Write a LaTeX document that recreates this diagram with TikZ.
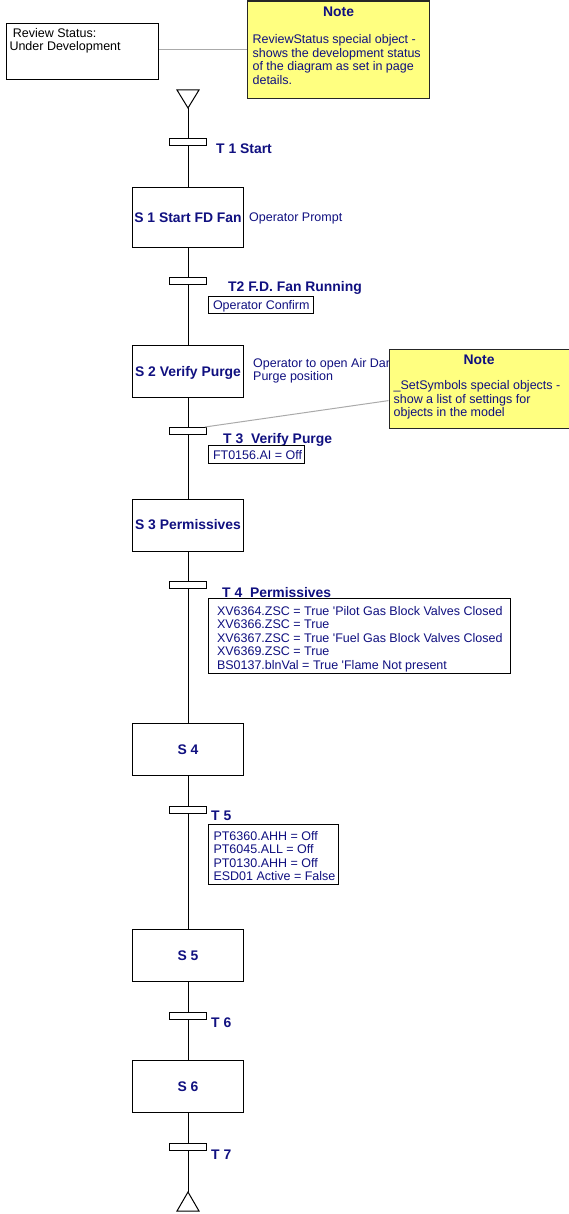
\documentclass[tikz,border=0pt]{standalone}
\usepackage{fontspec}
\setmainfont{Liberation Sans}
\usetikzlibrary{calc}

\definecolor{ink}{RGB}{16,16,128}
\definecolor{notefill}{RGB}{255,255,128}
\definecolor{leader}{RGB}{170,170,170}

\newcommand\rfont{\fontsize{12.5pt}{13.4pt}\selectfont}
\newcommand\bfont{\fontsize{13.9pt}{15pt}\selectfont\bfseries}
% one left-aligned row of a framed text box: width, left pad, text
\newcommand\cellrow[3]{\hbox to #1{\hskip#2\relax #3\hfil}}
\newcommand\apos{\textquotesingle}

\tikzset{
  stepbox/.style={draw, line width=1pt, fill=white, minimum width=111pt,
    minimum height=52pt, inner sep=0pt, font=\bfont, text=ink,
    text height=9.9pt, text depth=0pt},
  transbar/.style={draw, line width=1pt, fill=white, minimum width=37pt,
    minimum height=7pt, inner sep=0pt},
  translabel/.style={anchor=base west, inner sep=0pt, font=\bfont, text=ink},
  sidetext/.style={anchor=base west, inner sep=0pt, font=\rfont, text=ink},
  condbox/.style={draw, line width=1pt, fill=white, anchor=north west,
    inner sep=0pt, font=\rfont, text=ink},
  notebox/.style={draw=black!85, line width=1.2pt, fill=notefill,
    anchor=north west, inner sep=0pt, font=\rfont, text=ink},
  flow/.style={line width=1pt},
  leaderline/.style={draw=leader, line width=1pt},
}

\begin{document}
\begin{tikzpicture}[x=1pt, y=-1pt]
\useasboundingbox (0,0) rectangle (568,1214);

% review status block and its note
\node[draw, line width=1pt, anchor=north west, inner sep=0pt, font=\rfont,
  text height=13.7pt, text depth=42.3pt] (review) at (6,23)
  {\vtop{\cellrow{152pt}{3pt}{\ Review Status:}\cellrow{152pt}{3pt}{Under Development}}};
\node[notebox, text height=15.2pt, text depth=82.3pt] (note1) at (247,0.5)
  {\vtop{\hbox to 182pt{\hfil\bfont Note\hfil}\vskip 14.2pt
    \cellrow{182pt}{5pt}{ReviewStatus special object -}
    \cellrow{182pt}{5pt}{shows the development status}
    \cellrow{182pt}{5pt}{of the diagram as set in page}
    \cellrow{182pt}{5pt}{details.}}};
\draw[leaderline] (review.east |- note1.west) -- (note1.west);

% initial and final triangles
\coordinate (init) at (188,108);
\coordinate (final) at (188,1192);
\draw[line width=1pt, line join=miter] (177,90) -- (199,90) -- (init) -- cycle;
\draw[line width=1pt, line join=miter] (final) -- (199,1211) -- (177,1211) -- cycle;

% steps
\node[stepbox, minimum height=60pt] (s1) at (188,217.5) {S 1 Start FD Fan};
\node[stepbox] (s2) at (188,371.5) {S 2 Verify Purge};
\node[stepbox] (s3) at (188,525) {S 3 Permissives};
\node[stepbox] (s4) at (188,749.5) {S 4};
\node[stepbox] (s5) at (188,955.5) {S 5};
\node[stepbox] (s6) at (188,1086.5) {S 6};

% transitions
\node[transbar] (t1) at (188,142.5) {};
\node[transbar] (t2) at (188,281.5) {};
\node[transbar] (t3) at (188,431) {};
\node[transbar] (t4) at (188,585) {};
\node[transbar] (t5) at (188,810) {};
\node[transbar] (t6) at (188,1015.5) {};
\node[transbar] (t7) at (188,1147) {};

% flow line
\draw[flow] (init) -- (t1);
\draw[flow] (t1) -- (s1);
\draw[flow] (s1) -- (t2);
\draw[flow] (t2) -- (s2);
\draw[flow] (s2) -- (t3);
\draw[flow] (t3) -- (s3);
\draw[flow] (s3) -- (t4);
\draw[flow] (t4) -- (s4);
\draw[flow] (s4) -- (t5);
\draw[flow] (t5) -- (s5);
\draw[flow] (s5) -- (t6);
\draw[flow] (t6) -- (s6);
\draw[flow] (s6) -- (t7);
\draw[flow] (t7) -- (final);

% transition names
\node[translabel] (l1) at (216,154) {T 1 Start};
\node[translabel] (l2) at (228,292) {T2 F.D. Fan Running};
\node[translabel] (l3) at (223,443.3) {T 3\ \ Verify Purge};
\node[translabel] (l4) at (222,597.3) {T 4\ \ Permissives};
\node[translabel] (l5) at (211,820.7) {T 5};
\node[translabel] (l6) at (211,1027.3) {T 6};
\node[translabel] (l7) at (211,1159) {T 7};

% step actions
\node[sidetext] (a1) at (249,222) {Operator Prompt};
\node[sidetext] (a2) at (253,367.3)
  {\vtop{\hbox{Operator to open Air Damper to}\hbox{Purge position}}};

% transition conditions
\node[condbox, text height=13.3pt, text depth=3.7pt] (c2) at (208,296)
  {\cellrow{105pt}{4.5pt}{Operator Confirm}};
\node[condbox, text height=14.3pt, text depth=3.7pt] (c3) at (208,445)
  {\cellrow{96pt}{4.5pt}{FT0156.AI = Off}};
\node[condbox, text height=17pt, text depth=58pt] (c4) at (208,598)
  {\vtop{\cellrow{302pt}{8.5pt}{XV6364.ZSC = True \apos Pilot Gas Block Valves Closed}
    \cellrow{302pt}{8.5pt}{XV6366.ZSC = True}
    \cellrow{302pt}{8.5pt}{XV6367.ZSC = True \apos Fuel Gas Block Valves Closed}
    \cellrow{302pt}{8.5pt}{XV6369.ZSC = True}
    \cellrow{302pt}{8.5pt}{BS0137.blnVal = True \apos Flame Not present}}};
\node[condbox, text height=16pt, text depth=44pt] (c5) at (208,824)
  {\vtop{\cellrow{130pt}{5pt}{PT6360.AHH = Off}
    \cellrow{130pt}{5pt}{PT6045.ALL = Off}
    \cellrow{130pt}{5pt}{PT0130.AHH = Off}
    \cellrow{130pt}{5pt}{ESD01 Active = False}}};

% settings note
\node[notebox, text height=15pt, text depth=64pt] (note2) at (388.5,349)
  {\vtop{\hbox to 180pt{\hfil\bfont Note\hfil}\vskip 11.6pt
    \cellrow{180pt}{4.5pt}{\_SetSymbols special objects -}
    \cellrow{180pt}{4.5pt}{show a list of settings for}
    \cellrow{180pt}{4.5pt}{objects in the model}}};
\draw[leaderline] ([yshift=-11.5pt]note2.west) -- ([xshift=-2pt]t3.north east);
\end{tikzpicture}
\end{document}
